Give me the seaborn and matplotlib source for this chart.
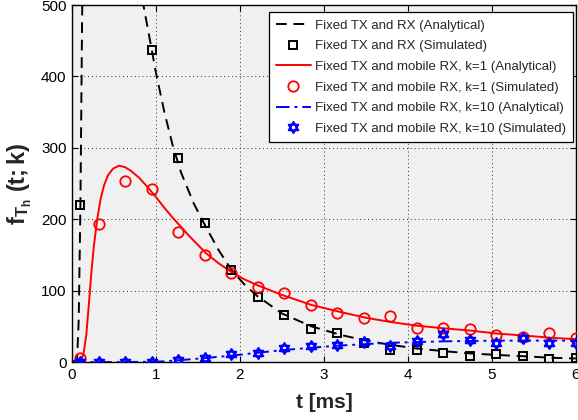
import numpy as np
import pandas as pd
import matplotlib
matplotlib.use("Agg")
import matplotlib.pyplot as plt
from matplotlib.path import Path
from matplotlib.lines import Line2D
import seaborn as sns

# ---------------- data ----------------
t_fixed_ana = [0, 0.06, 0.08, 0.1, 0.12, 0.14, 0.2, 0.3, 0.45, 0.6, 0.75, 0.85, 0.95, 1.0,
               1.1, 1.2, 1.3, 1.45, 1.6, 1.75, 1.9, 2.05, 2.2, 2.5, 2.85, 3.2, 3.5, 3.8,
               4.1, 4.45, 4.75, 5.05, 5.4, 5.7, 6.0]
f_fixed_ana = [0, 3, 60, 220, 480, 680, 880, 920, 820, 700, 580, 500, 437, 405,
               350, 303, 265, 222, 188, 156, 129, 109, 93, 68, 50, 38, 30, 24,
               19, 15, 12, 10, 8, 6, 5]

t_k1_ana = [0, 0.1, 0.12, 0.14, 0.17, 0.2, 0.23, 0.26, 0.3, 0.34, 0.38, 0.43, 0.49,
            0.56, 0.63, 0.7, 0.8, 0.9, 1.0, 1.1, 1.2, 1.3, 1.4, 1.5, 1.6, 1.75, 1.9,
            2.05, 2.2, 2.5, 2.85, 3.2, 3.5, 3.8, 4.1, 4.45, 4.75, 5.05, 5.4, 5.7, 6.0]
f_k1_ana = [0, 2, 6, 14, 38, 80, 125, 162, 200, 228, 247, 262, 271,
            275, 273, 268, 258, 245, 231, 216, 202, 189, 176, 164, 152, 138, 126,
            116, 108, 94, 80, 70, 62, 56, 51, 47, 44, 40, 37, 34, 32]

t_k10_ana = [0, 0.5, 0.9, 1.1, 1.27, 1.58, 1.9, 2.21, 2.53, 2.85, 3.17, 3.48, 3.8,
             4.1, 4.43, 4.75, 5.07, 5.38, 5.7, 6.0]
f_k10_ana = [0, 0, 0.3, 1, 2.5, 5.5, 9, 13, 17, 20, 23, 25, 27,
             28, 29, 29.5, 30, 30, 30, 30]

t_sim = [0.1, 0.316, 0.632, 0.947, 1.263, 1.579, 1.895, 2.211, 2.526, 2.842, 3.158,
         3.474, 3.789, 4.105, 4.421, 4.737, 5.053, 5.368, 5.684, 6.0]
f_fixed_sim = [220, 905, 690, 437, 286, 195, 129, 91, 66, 46, 40, 27, 17, 17, 13, 8, 11, 8, 4, 5]
f_k1_sim = [5, 193, 253, 242, 182, 150, 125, 105, 97, 80, 68, 62, 64, 47, 48, 46, 38, 35, 40, 34]
f_k10_sim = [0, 0, 0, 0, 3, 6, 11, 13, 19, 22, 24, 28, 22, 29, 39, 31, 27, 34, 27, 27]

labels = ["Fixed TX and RX (Analytical)",
          "Fixed TX and RX (Simulated)",
          "Fixed TX and mobile RX, k=1 (Analytical)",
          "Fixed TX and mobile RX, k=1 (Simulated)",
          "Fixed TX and mobile RX, k=10 (Analytical)",
          "Fixed TX and mobile RX, k=10 (Simulated)"]
x_ticks = [0, 1, 2, 3, 4, 5, 6]
y_ticks = [0, 100, 200, 300, 400, 500]

# ---------------- style ----------------
sns.set_style("ticks", {"axes.facecolor": "#f0f0f0", "axes.edgecolor": "black"})
plt.rcParams["font.family"] = ["Liberation Sans", "DejaVu Sans"]
plt.rcParams["mathtext.fontset"] = "custom"
plt.rcParams["mathtext.rm"] = "Liberation Sans"
plt.rcParams["mathtext.bf"] = "Liberation Sans:bold"
plt.rcParams["mathtext.it"] = "Liberation Sans:italic"

fig = plt.figure(figsize=(5.78, 4.20), dpi=100)
ax = fig.add_axes([0.1246, 0.138, 0.8716, 0.850])

# hexagram marker (two overlapping triangles)
ang_up = np.deg2rad([90, 210, 330])
ang_dn = np.deg2rad([270, 30, 150])
verts = ([(np.cos(a), np.sin(a)) for a in ang_up] + [(0, 0)] +
         [(np.cos(a), np.sin(a)) for a in ang_dn] + [(0, 0)])
codes = [Path.MOVETO, Path.LINETO, Path.LINETO, Path.CLOSEPOLY] * 2
hexagram = Path(verts, codes)

lw = 1.4
dash_k = (0, (5.5, 3.5))
dash_b = (0, (7, 2.5, 1.5, 2.5))
sns.lineplot(x=t_fixed_ana, y=f_fixed_ana, ax=ax, color="black", lw=lw,
             linestyle=dash_k, estimator=None, sort=False, zorder=3)
sns.lineplot(x=t_k1_ana, y=f_k1_ana, ax=ax, color="red", lw=lw,
             estimator=None, sort=False, zorder=3)
sns.lineplot(x=t_k10_ana, y=f_k10_ana, ax=ax, color="blue", lw=lw,
             linestyle=dash_b, estimator=None, sort=False, zorder=3)

sns.lineplot(x=t_sim, y=f_fixed_sim, ax=ax, color="black", linestyle="none",
             marker="s", ms=5.5, mfc="none", mec="black", mew=1.4,
             estimator=None, sort=False, zorder=4)
sns.lineplot(x=t_sim, y=f_k1_sim, ax=ax, color="red", linestyle="none",
             marker="o", ms=7.5, mfc="none", mec="red", mew=1.3,
             estimator=None, sort=False, zorder=4)
sns.lineplot(x=t_sim, y=f_k10_sim, ax=ax, color="blue", linestyle="none",
             marker=hexagram, ms=8, mfc="none", mec="blue", mew=1.4,
             estimator=None, sort=False, zorder=4)

ax.set_xlim(0, 6)
ax.set_ylim(0, 500)
ax.set_xticks(x_ticks)
ax.set_yticks(y_ticks)
ax.set_xticklabels([str(v) for v in x_ticks])
ax.set_yticklabels([str(v) for v in y_ticks])
ax.tick_params(direction="in", length=4, width=0.8, top=True, right=True,
               labelsize=11, pad=4, colors="black")
ax.grid(True, linestyle=(0, (1, 3)), color="#333333", lw=0.7)
ax.set_axisbelow(True)
for s in ax.spines.values():
    s.set_linewidth(1.0)
    s.set_color("black")

ax.set_xlabel("t [ms]", fontsize=15, fontweight="bold", labelpad=8)
ax.set_ylabel(r"$\mathbf{f_{T_h}\ (t;k)}$", fontsize=17, labelpad=5)

handles = [
    Line2D([], [], color="black", lw=lw, linestyle=dash_k),
    Line2D([], [], color="black", linestyle="none", marker="s", ms=5.5, mfc="none", mew=1.4),
    Line2D([], [], color="red", lw=lw),
    Line2D([], [], color="red", linestyle="none", marker="o", ms=7.5, mfc="none", mew=1.3),
    Line2D([], [], color="blue", lw=lw, linestyle=dash_b),
    Line2D([], [], color="blue", linestyle="none", marker=hexagram, ms=8, mfc="none", mew=1.4),
]
leg = ax.legend(handles, labels, loc="upper right", bbox_to_anchor=(0.994, 0.980),
                borderaxespad=0, fontsize=9.5, frameon=True, fancybox=False,
                framealpha=1, edgecolor="black", facecolor="white",
                handlelength=2.6, handletextpad=0.3, labelspacing=0.64,
                borderpad=0.55)
leg.get_frame().set_linewidth(0.9)

fig.savefig("out.png", dpi=100)
